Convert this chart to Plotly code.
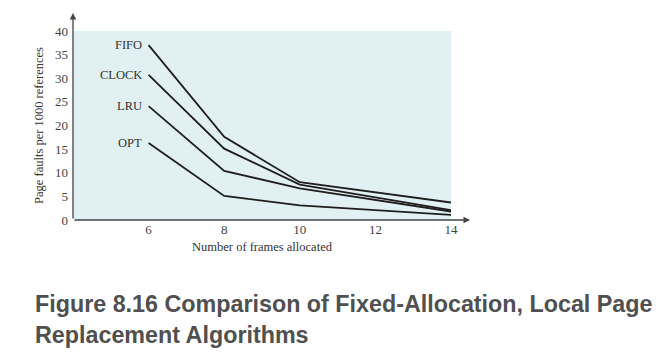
import plotly.graph_objects as go

frames = [6, 8, 10, 14]
fifo = [37.0, 17.6, 8.0, 3.7]
clock = [30.7, 15.1, 7.5, 2.1]
lru = [24.1, 10.4, 6.7, 1.8]
opt = [16.3, 5.1, 3.1, 1.1]
series_names = ["FIFO", "CLOCK", "LRU", "OPT"]
series_values = [fifo, clock, lru, opt]
x_ticks = [6, 8, 10, 12, 14]
y_ticks = [0, 5, 10, 15, 20, 25, 30, 35, 40]
caption_lines = ["Figure 8.16 Comparison of Fixed-Allocation, Local Page",
                 "Replacement Algorithms"]

serif = "Liberation Serif, Times New Roman, serif"
sans = "Liberation Sans, Arial, sans-serif"
PW, PH = 378, 189  # plot area in pixels

fig = go.Figure()
for name, vals in zip(series_names, series_values):
    fig.add_trace(go.Scatter(x=frames, y=vals, mode="lines", name=name,
                             line=dict(color="#1e1e1e", width=1.8), showlegend=False,
                             hoverinfo="skip"))
    fig.add_annotation(x=frames[0], y=vals[0], text=name, showarrow=False,
                       xanchor="right", yanchor="middle", xshift=-5,
                       font=dict(family=serif, size=12.5, color="#333"))

# axis arrows
fig.add_annotation(xref="paper", yref="paper", x=0, y=1 + 18 / PH, axref="pixel", ayref="pixel",
                   ax=0, ay=207, showarrow=True, arrowhead=2, arrowsize=1, arrowwidth=1.3,
                   arrowcolor="#444", text="")
fig.add_annotation(xref="paper", yref="paper", x=1 + 19 / PW, y=0, axref="pixel", ayref="pixel",
                   ax=-397, ay=0, showarrow=True, arrowhead=2, arrowsize=1, arrowwidth=1.3,
                   arrowcolor="#444", text="")

for i, line in enumerate(caption_lines):
    py = 304 + 31 * i
    fig.add_annotation(xref="paper", yref="paper", x=(33 - 73) / PW, y=(220 - py) / PH,
                       xanchor="left", yanchor="middle", showarrow=False,
                       text="<b>" + line + "</b>",
                       font=dict(family=sans, size=23.3, color="#505050"))

fig.update_layout(
    width=660, height=356,
    margin=dict(l=65, r=217, t=23, b=144, autoexpand=False),
    paper_bgcolor="white", plot_bgcolor="#e1f0f2",
    font=dict(family=serif, size=13, color="#444"),
    xaxis=dict(range=[4, 14], tickvals=x_ticks, showgrid=False, zeroline=False, showline=False,
               ticks="", automargin=False,
               title=dict(text="Number of frames allocated", standoff=6,
                          font=dict(family=serif, size=12.5, color="#333"))),
    yaxis=dict(range=[0, 40], tickvals=y_ticks, showgrid=False, zeroline=False, showline=False,
               ticks="", ticklabelstandoff=4, automargin=False,
               title=dict(text="Page faults per 1000 references", standoff=8,
                          font=dict(family=serif, size=12.5, color="#333"))),
)
fig.write_html("out.html")
